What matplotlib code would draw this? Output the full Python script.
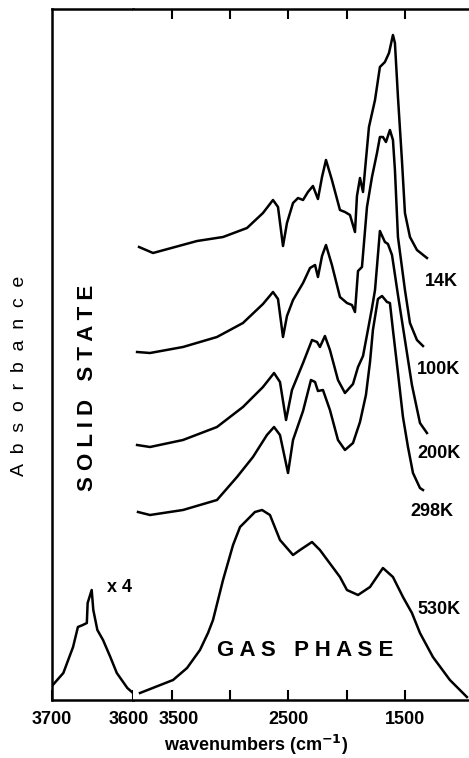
import matplotlib
matplotlib.use('Agg')
import matplotlib.pyplot as plt
import matplotlib.transforms as mtrans

plt.rcParams['font.family'] = ['Liberation Sans', 'DejaVu Sans']

# x4 enlarged gas-phase band (left, expanded section)
wn_x4 = [3699, 3686, 3674, 3668, 3662, 3657, 3656, 3651, 3649, 3644, 3637, 3628, 3620, 3607, 3600]
ab_x4 = [0.15, 0.27, 0.53, 0.73, 0.75, 0.77, 0.97, 1.10, 0.90, 0.70, 0.60, 0.43, 0.27, 0.12, 0.07]

# solid state spectra, stacked as in the figure
wn_14k = [3783, 3663, 3285, 3062, 2856, 2719, 2633, 2590, 2547, 2513, 2461, 2418, 2375, 2333,
          2290, 2247, 2212, 2178, 2127, 2058, 2015, 1972, 1929, 1912, 1886, 1860, 1835, 1809,
          1757, 1715, 1672, 1637, 1603, 1586, 1560, 1526, 1500, 1457, 1397, 1311]
ab_14k = [4.53, 4.47, 4.59, 4.63, 4.72, 4.87, 5.00, 4.93, 4.54, 4.77, 4.97, 5.02, 5.00, 5.08,
          5.14, 5.01, 5.23, 5.40, 5.20, 4.90, 4.88, 4.85, 4.68, 5.04, 5.22, 5.08, 5.40, 5.73,
          6.00, 6.33, 6.38, 6.47, 6.65, 6.57, 6.03, 5.40, 4.87, 4.63, 4.50, 4.42]

wn_100k = [3800, 3689, 3406, 3114, 2891, 2719, 2633, 2590, 2547, 2513, 2461, 2375, 2315, 2272,
           2247, 2212, 2178, 2127, 2058, 1998, 1955, 1929, 1903, 1869, 1826, 1783, 1740, 1715,
           1689, 1663, 1629, 1603, 1586, 1560, 1500, 1457, 1397, 1345]
ab_100k = [3.48, 3.47, 3.53, 3.63, 3.77, 3.96, 4.08, 4.01, 3.63, 3.84, 4.00, 4.17, 4.32, 4.35,
           4.23, 4.44, 4.55, 4.35, 4.03, 3.97, 3.95, 3.88, 4.29, 4.33, 4.93, 5.23, 5.47, 5.63,
           5.63, 5.58, 5.70, 5.60, 5.30, 4.63, 4.10, 3.77, 3.60, 3.54]

wn_200k = [3800, 3689, 3406, 3114, 2891, 2719, 2624, 2573, 2521, 2470, 2375, 2298, 2255, 2230,
           2187, 2144, 2075, 2015, 1946, 1903, 1860, 1818, 1783, 1757, 1732, 1715, 1672, 1646,
           1611, 1560, 1500, 1440, 1371, 1311]
ab_200k = [2.55, 2.53, 2.60, 2.73, 2.93, 3.13, 3.27, 3.18, 2.80, 3.10, 3.37, 3.60, 3.58, 3.53,
           3.64, 3.50, 3.20, 3.07, 3.16, 3.33, 3.44, 3.70, 3.92, 4.10, 4.45, 4.69, 4.58, 4.56,
           4.45, 4.05, 3.60, 3.15, 2.77, 2.67]

wn_298k = [3792, 3689, 3406, 3114, 2942, 2805, 2685, 2624, 2573, 2504, 2461, 2375, 2307, 2272,
           2247, 2204, 2144, 2075, 2015, 1946, 1886, 1835, 1800, 1775, 1732, 1697, 1654, 1629,
           1603, 1560, 1517, 1474, 1431, 1371, 1345]
ab_298k = [1.88, 1.85, 1.90, 2.00, 2.23, 2.43, 2.65, 2.73, 2.65, 2.27, 2.60, 2.89, 3.20, 3.18,
           3.09, 3.10, 2.90, 2.60, 2.50, 2.57, 2.78, 3.05, 3.38, 3.70, 4.01, 4.04, 3.98, 3.97,
           3.70, 3.27, 2.83, 2.53, 2.27, 2.12, 2.10]

# gas phase
wn_530k = [3775, 3491, 3371, 3260, 3191, 3148, 3105, 3062, 2976, 2916, 2856, 2788, 2727, 2659,
           2573, 2461, 2401, 2298, 2230, 2058, 1998, 1903, 1800, 1689, 1603, 1517, 1440, 1371,
           1260, 1114, 968]
ab_530k = [0.07, 0.20, 0.32, 0.50, 0.67, 0.80, 1.00, 1.20, 1.55, 1.73, 1.80, 1.88, 1.90, 1.85,
           1.60, 1.45, 1.50, 1.58, 1.50, 1.23, 1.10, 1.05, 1.13, 1.32, 1.23, 1.03, 0.87, 0.67,
           0.43, 0.20, 0.03]

solid = [(wn_14k, ab_14k), (wn_100k, ab_100k), (wn_200k, ab_200k), (wn_298k, ab_298k)]
temp_labels = ['14K', '100K', '200K', '298K', '530K']
label_pos = [(1328, 4.18), (1397, 3.31), (1397, 2.46), (1457, 1.88), (1397, 0.90)]

fig = plt.figure(figsize=(4.69, 7.58), dpi=100)
left, brk = 52 / 469, 133 / 469
bottom, height = 58 / 758, 691 / 758
ax1 = fig.add_axes([left, bottom, brk - left, height])
ax2 = fig.add_axes([brk, bottom, 1 - brk, height])

lw = 1.8
ax1.plot(wn_x4, ab_x4, color='black', lw=lw, solid_joinstyle='round')
for wn, ab in solid:
    ax2.plot(wn, ab, color='black', lw=lw, solid_joinstyle='round')
ax2.plot(wn_530k, ab_530k, color='black', lw=lw, solid_joinstyle='round')

ax1.set_xlim(3700, 3600)
ax2.set_xlim(3835, 950)
for ax in (ax1, ax2):
    ax.set_ylim(0, 6.91)
    ax.set_yticks([])
    for s in ax.spines.values():
        s.set_linewidth(1.8)
ax1.spines['right'].set_visible(False)
ax2.spines['left'].set_visible(False)
ax2.spines['right'].set_visible(False)

ax1.set_xticks([3700, 3600])
ax1.tick_params(axis='x', direction='in', length=7, width=1.5, top=False,
                labelsize=13, pad=8)
ax2.set_xticks([3500, 3000, 2500, 2000, 1500], labels=['3500', '', '2500', '', '1500'])
ax2.tick_params(axis='x', direction='in', length=7, width=1.5, top=True, labelsize=13, pad=8)

shifts = {'3600': -4, '3500': 7}
for ax in (ax1, ax2):
    for lab in ax.get_xticklabels():
        lab.set_fontweight('bold')
        dx = shifts.get(lab.get_text(), 0)
        if dx:
            lab.set_transform(lab.get_transform() +
                              mtrans.ScaledTranslation(dx / 100, 0, fig.dpi_scale_trans))

for t, (x, y) in zip(temp_labels, label_pos):
    ax2.text(x, y, t, fontsize=13, fontweight='bold', ha='left', va='center')

ax1.text(3632, 1.13, 'x 4', fontsize=13, fontweight='bold', ha='left', va='center')
ax1.text(3656, 3.12, 'S O L I D   S T A T E', fontsize=16, fontweight='bold',
         rotation=90, ha='center', va='center')
ax2.text(2358, 0.50, 'G A S   P H A S E', fontsize=16, fontweight='bold',
         ha='center', va='center')

fig.text(20 / 469, 1 - 376 / 758, '  '.join('Absorbance'), fontsize=14,
         rotation=90, ha='center', va='center')
fig.text(256 / 469, 1 - 745 / 758, 'wavenumbers (cm$^{\\mathbf{-1}}$)', fontsize=13,
         fontweight='bold', ha='center', va='center')

fig.savefig('out.png', dpi=100)
